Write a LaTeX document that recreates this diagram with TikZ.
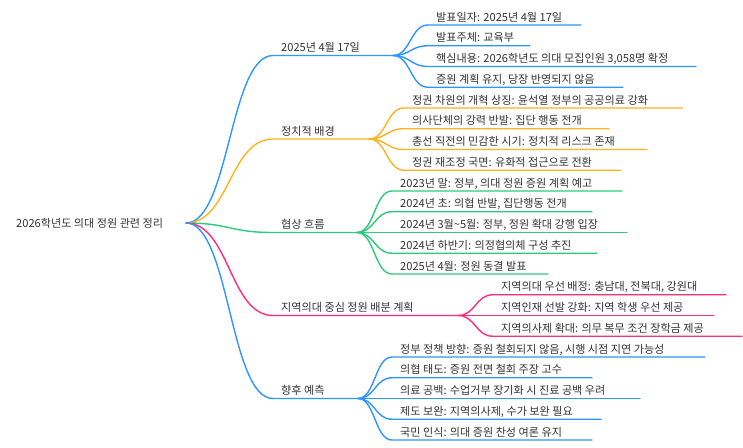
\documentclass[tikz,border=0pt]{standalone}
\usepackage{fontspec}
\setmainfont{Noto Sans CJK KR}
\usetikzlibrary{calc}
\definecolor{mmblue}{HTML}{2F95FF}
\definecolor{mmorange}{HTML}{FFB31E}
\definecolor{mmgreen}{HTML}{2DCB7A}
\definecolor{mmpink}{HTML}{FF2D80}
\definecolor{mmtext}{HTML}{333333}
\tikzset{
  mmlink/.style={line width=1.4pt, line cap=round},
  mmtxt/.style={anchor=base west, inner sep=0pt, text=mmtext, font=\fontsize{11.1}{13}\selectfont},
}
% #1 name, #2 colour, #3 parent junction, #4 line start x, #5 line y, #6 line end x, #7 text
\newcommand{\mmitem}[7]{%
  \coordinate (#1s) at (#4,#5);
  \coordinate (#1j) at (#6,#5);
  \node[mmtxt] (#1) at (#4+8,#5-4) {#7};
  \draw[mmlink,#2] let \p1=(#3), \p2=(#1s) in
    (\p1) .. controls ({(\x1+\x2)/2},\y1) and ({(\x1+\x2)/2},\y2) .. (\p2) -- (#1j);
}
\begin{document}
\begin{tikzpicture}[x=1pt,y=-1pt]
\useasboundingbox (0,0) rectangle (743,447);
\fill[white] (0,0) rectangle (743,447);
\node[mmtxt] (root) at (16,227) {2026학년도 의대 정원 관련 정리};
\coordinate (rootj) at (186,223);

% branch 1
\mmitem{b1}{mmblue}{rootj}{273}{55.5}{393}{2025년 4월 17일}
\mmitem{b1a}{mmblue}{b1j}{428}{25}{581}{발표일자: 2025년 4월 17일}
\mmitem{b1b}{mmblue}{b1j}{428}{45.75}{530}{발표주체: 교육부}
\mmitem{b1c}{mmblue}{b1j}{428}{66.5}{696}{핵심내용: 2026학년도 의대 모집인원 3,058명 확정}
\mmitem{b1d}{mmblue}{b1j}{428}{87.25}{623}{증원 계획 유지, 당장 반영되지 않음}

% branch 2
\mmitem{b2}{mmorange}{rootj}{273}{139}{369}{정치적 배경}
\mmitem{b2a}{mmorange}{b2j}{404}{108}{683}{정권 차원의 개혁 상징: 윤석열 정부의 공공의료 강화}
\mmitem{b2b}{mmorange}{b2j}{404}{128.75}{609}{의사단체의 강력 반발: 집단 행동 전개}
\mmitem{b2c}{mmorange}{b2j}{404}{149.5}{647}{총선 직전의 민감한 시기: 정치적 리스크 존재}
\mmitem{b2d}{mmorange}{b2j}{404}{170.25}{621}{정권 재조정 국면: 유화적 접근으로 전환}

% branch 3
\mmitem{b3}{mmgreen}{rootj}{273}{232.5}{357}{협상 흐름}
\mmitem{b3a}{mmgreen}{b3j}{392}{191}{622}{2023년 말: 정부, 의대 정원 증원 계획 예고}
\mmitem{b3b}{mmgreen}{b3j}{392}{211.75}{592}{2024년 초: 의협 반발, 집단행동 전개}
\mmitem{b3c}{mmgreen}{b3j}{392}{232.5}{627}{2024년 3월\textasciitilde5월: 정부, 정원 확대 강행 입장}
\mmitem{b3d}{mmgreen}{b3j}{392}{253.25}{597}{2024년 하반기: 의정협의체 구성 추진}
\mmitem{b3f}{mmgreen}{b3j}{392}{274}{548}{2025년 4월: 정원 동결 발표}

% branch 4
\mmitem{b4}{mmpink}{rootj}{273}{315.5}{458}{지역의대 중심 정원 배분 계획}
\mmitem{b4a}{mmpink}{b4j}{493}{294.75}{726}{지역의대 우선 배정: 충남대, 전북대, 강원대}
\mmitem{b4b}{mmpink}{b4j}{493}{315.5}{714}{지역인재 선발 강화: 지역 학생 우선 제공}
\mmitem{b4c}{mmpink}{b4j}{493}{336.25}{742}{지역의사제 확대: 의무 복무 조건 장학금 제공}

% branch 5
\mmitem{b5}{mmblue}{rootj}{273}{398.5}{358}{향후 예측}
\mmitem{b5a}{mmblue}{b5j}{392}{357}{705}{정부 정책 방향: 증원 철회되지 않음, 시행 시점 지연 가능성}
\mmitem{b5b}{mmblue}{b5j}{392}{377.75}{592}{의협 태도: 증원 전면 철회 주장 고수}
\mmitem{b5c}{mmblue}{b5j}{392}{398.5}{640}{의료 공백: 수업거부 장기화 시 진료 공백 우려}
\mmitem{b5d}{mmblue}{b5j}{392}{419.25}{601}{제도 보완: 지역의사제, 수가 보완 필요}
\mmitem{b5f}{mmblue}{b5j}{392}{440}{592}{국민 인식: 의대 증원 찬성 여론 유지}
\end{tikzpicture}
\end{document}
